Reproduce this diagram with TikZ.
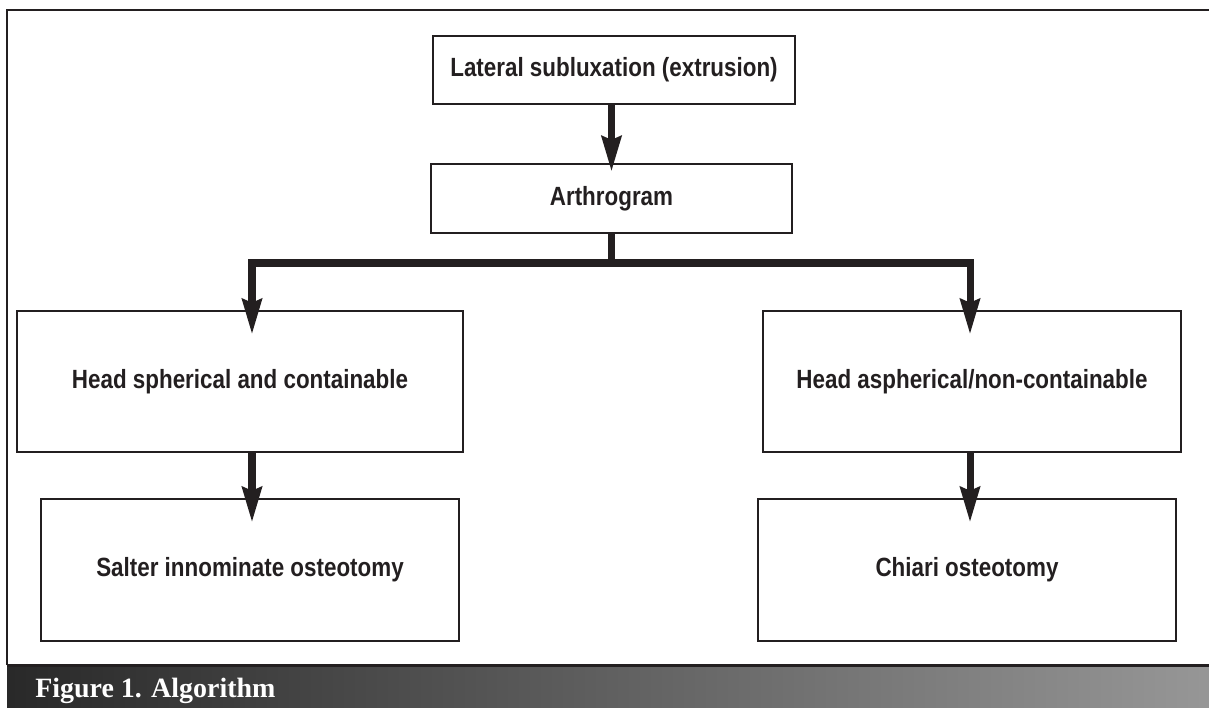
\documentclass[tikz,border=0pt]{standalone}
\usepackage{fontspec}
\setmainfont{Liberation Serif}
\newfontfamily\boxfont[FakeStretch=0.85]{Liberation Sans}
\usetikzlibrary{arrows.meta}
\definecolor{ink}{HTML}{231F20}

\tikzset{
	stage/.style={draw=ink, line width=1.4pt, inner sep=0pt, text=ink, align=center,
		font=\boxfont\bfseries\fontsize{15}{17}\selectfont},
	link/.style={draw=ink, line width=4pt, line join=miter},
	arr/.style={link, -{Stealth[length=20pt, width=11pt, inset=2pt]}},
	frame/.style={draw=ink, line width=1.7pt}
}

\begin{document}
\begin{tikzpicture}[x=0.02cm, y=-0.02cm]
		%%%%% START %%%%%
		\useasboundingbox (0,0) rectangle (1209,707);
		
		% outer frame and caption bar
		\draw[frame] (7,665) -- (7,10) -- (1209,10);
		\shade[left color=black!84, right color=black!41] (7,665) rectangle (1209,707);
		\draw[frame] (7,665) -- (1209,665);
		\node[anchor=base west, text=white, inner sep=0pt,
			font=\bfseries\fontsize{15.9}{18}\selectfont] (caption) at (35,697) {Figure 1. Algorithm};
		
		% boxes
		\node[stage, minimum width=7.24cm, minimum height=1.36cm] (sublux) at (614,70) {Lateral subluxation (extrusion)};
		\node[stage, minimum width=7.22cm, minimum height=1.38cm] (arthro) at (611.5,198.5) {Arthrogram};
		
		\node[stage, minimum width=8.92cm, minimum height=2.82cm] (spher) at (240,381.5) {Head spherical and containable};
		\node[stage, minimum width=8.36cm, minimum height=2.82cm] (aspher) at (972,381.5) {Head aspherical/non-containable};
		
		\node[stage, minimum width=8.36cm, minimum height=2.84cm] (salter) at (250,570) {Salter innominate osteotomy};
		\node[stage, minimum width=8.36cm, minimum height=2.84cm] (chiari) at (967,570) {Chiari osteotomy};
		
		% connectors
		\coordinate (forkL) at (252,263);
		\coordinate (forkR) at (970,263);
		
		\draw[arr, shorten >=-5pt] (arthro.north |- sublux.south) -- (arthro.north);
		\draw[arr, shorten >=-14pt] (arthro.south) |- (forkL) -- (forkL |- spher.north);
		\draw[arr, shorten >=-14pt] (arthro.south) |- (forkR) -- (forkR |- aspher.north);
		\draw[arr, shorten >=-14pt] (forkL |- spher.south) -- (forkL |- salter.north);
		\draw[arr, shorten >=-14pt] (forkR |- aspher.south) -- (forkR |- chiari.north);
		
		%%%%% END %%%%%
	\end{tikzpicture}
\end{document}
